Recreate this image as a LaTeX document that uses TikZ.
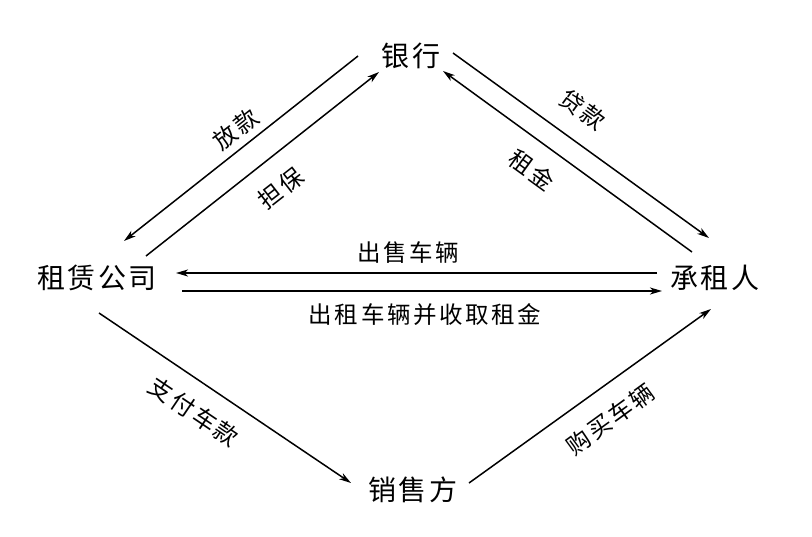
\documentclass[tikz,border=0pt]{standalone}
\usepackage{fontspec}
\newfontfamily\cjknode[LetterSpace=8]{Noto Sans CJK SC}
\newfontfamily\cjklab[LetterSpace=11]{Noto Sans CJK SC}
\usetikzlibrary{arrows.meta}
\begin{document}
\begin{tikzpicture}[x=1pt,y=-1pt,
  ent/.style={font=\cjknode\fontsize{28}{30}\selectfont, inner sep=0pt},
  lab/.style={font=\cjklab\fontsize{23.5}{26}\selectfont, inner sep=0pt},
  flow/.style={line width=1.5pt, -{Stealth[length=12pt,width=7pt,inset=3.5pt]}}]
\useasboundingbox (0,0) rectangle (812,536);
% entities
\node[ent] (bank) at (411,56) {银行};
\node[ent] (lessor) at (97,278) {租赁公司};
\node[ent] (lessee) at (715,278) {承租人};
\node[ent] (seller) at (413,490) {销售方};
% endpoints
\coordinate (a1) at (358,56);  \coordinate (a2) at (124,241);
\coordinate (b1) at (146,256); \coordinate (b2) at (379,72);
\coordinate (c1) at (453,53);  \coordinate (c2) at (709,238);
\coordinate (d1) at (692,252); \coordinate (d2) at (443,71);
\coordinate (e1) at (657,273); \coordinate (e2) at (176,273);
\coordinate (f1) at (182,291); \coordinate (f2) at (662,291);
\coordinate (g1) at (99,313);  \coordinate (g2) at (351,483);
\coordinate (h1) at (469,483); \coordinate (h2) at (711,309);
% connectors
\draw[flow] (a1) -- (a2);
\draw[flow] (b1) -- (b2);
\draw[flow] (c1) -- (c2);
\draw[flow] (d1) -- (d2);
\draw[flow] (e1) -- (e2);
\draw[flow] (f1) -- (f2);
\draw[flow] (g1) -- (g2);
\draw[flow] (h1) -- (h2);
% labels
\node[lab, rotate=38] (l1) at (236,129) {放款};
\node[lab, rotate=38] (l2) at (281,188) {担保};
\node[lab, rotate=-36] (l3) at (583,110) {贷款};
\node[lab, rotate=-36] (l4) at (532,170) {租金};
\node[lab] (l5) at (408,253) {出售车辆};
\node[lab] (l6) at (425,315) {出租车辆并收取租金};
\node[lab, rotate=-34] (l7) at (194,412) {支付车款};
\node[lab, rotate=36] (l8) at (610,419) {购买车辆};
\end{tikzpicture}
\end{document}
